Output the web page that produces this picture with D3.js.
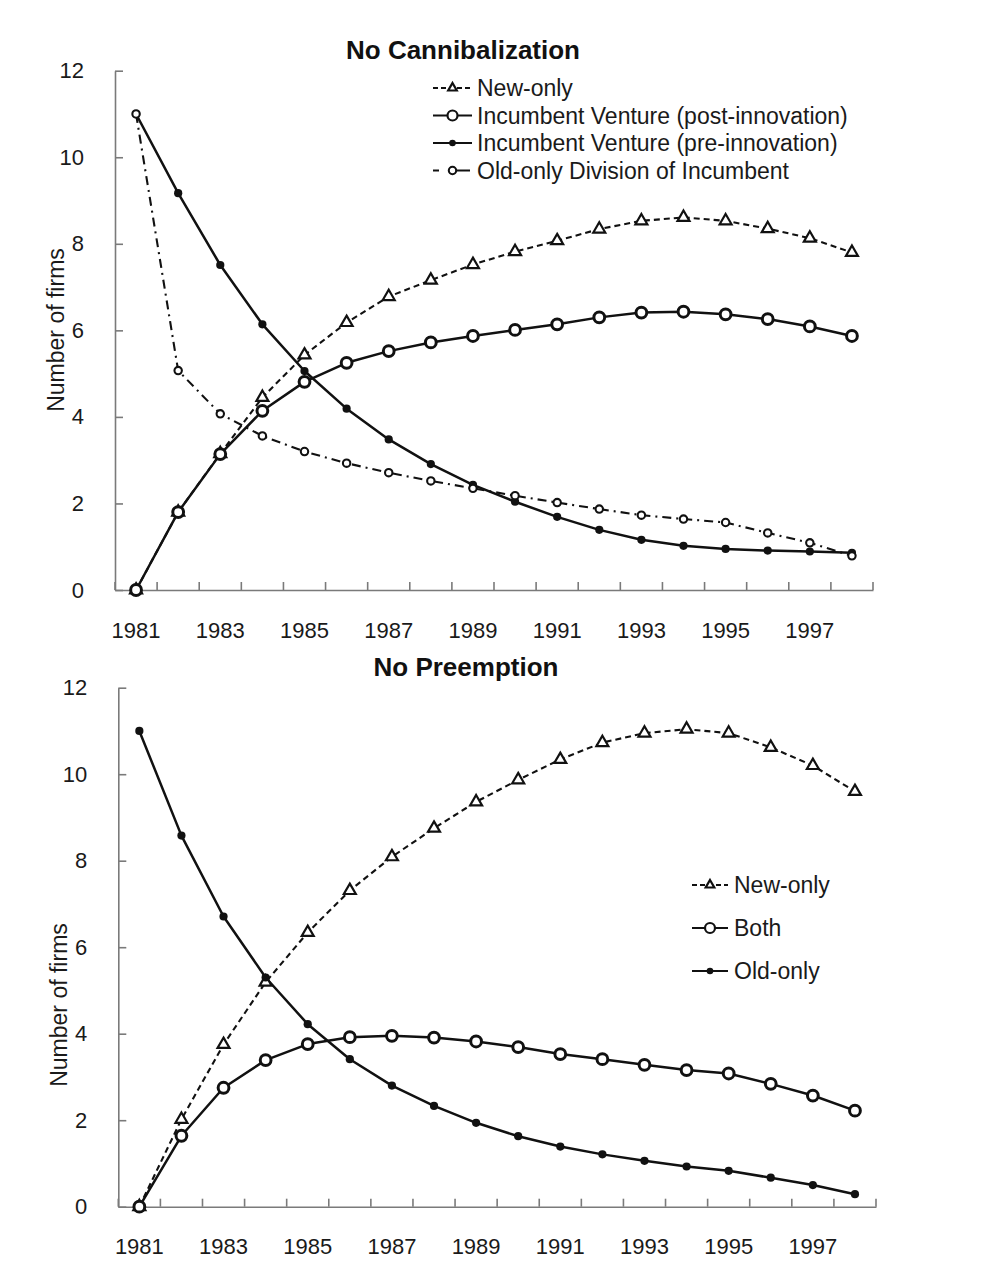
<!DOCTYPE html>
<html>
<head>
<meta charset="utf-8">
<script src="https://cdnjs.cloudflare.com/ajax/libs/d3/7.8.5/d3.min.js"></script>
<style>
  html, body { margin: 0; padding: 0; background: #fff; }
  svg { display: block; font-family: "Liberation Sans", Arial, Helvetica, sans-serif; }
</style>
</head>
<body>
<svg id="chart" width="988" height="1278"></svg>
<script>
// ---------------- DATA ----------------
const years = [1981,1982,1983,1984,1985,1986,1987,1988,1989,1990,1991,1992,1993,1994,1995,1996,1997,1998];
const yTicks = [0, 2, 4, 6, 8, 10, 12];
const xLabelYears = [1981,1983,1985,1987,1989,1991,1993,1995,1997];

// Panel 1: No Cannibalization
const title1 = "No Cannibalization";
const nc_newOnly   = [0, 1.80, 3.15, 4.45, 5.43, 6.18, 6.78, 7.16, 7.52, 7.82, 8.07, 8.34, 8.53, 8.61, 8.53, 8.35, 8.13, 7.80];
const nc_postInnov = [0, 1.80, 3.14, 4.14, 4.81, 5.25, 5.52, 5.72, 5.87, 6.01, 6.14, 6.30, 6.41, 6.43, 6.37, 6.26, 6.09, 5.87];
const nc_preInnov  = [11, 9.17, 7.51, 6.14, 5.06, 4.19, 3.48, 2.91, 2.43, 2.04, 1.69, 1.39, 1.16, 1.02, 0.95, 0.91, 0.89, 0.86];
const nc_oldOnly   = [11, 5.07, 4.07, 3.56, 3.20, 2.93, 2.71, 2.52, 2.35, 2.18, 2.02, 1.87, 1.73, 1.64, 1.56, 1.32, 1.09, 0.79];
const legend1 = ["New-only", "Incumbent Venture (post-innovation)", "Incumbent Venture (pre-innovation)", "Old-only Division of Incumbent"];

// Panel 2: No Preemption
const title2 = "No Preemption";
const np_newOnly = [0, 2.02, 3.75, 5.19, 6.34, 7.31, 8.09, 8.75, 9.36, 9.87, 10.34, 10.73, 10.95, 11.04, 10.95, 10.62, 10.20, 9.60];
const np_both    = [0, 1.64, 2.75, 3.39, 3.76, 3.92, 3.95, 3.91, 3.82, 3.69, 3.53, 3.41, 3.28, 3.16, 3.08, 2.84, 2.57, 2.22];
const np_oldOnly = [11, 8.58, 6.71, 5.30, 4.22, 3.41, 2.80, 2.33, 1.94, 1.63, 1.39, 1.21, 1.06, 0.93, 0.83, 0.67, 0.50, 0.29];
const legend2 = ["New-only", "Both", "Old-only"];

const yLabel = "Number of firms";

// ---------------- STYLES ----------------
const INK = "#111";
const AXIS = "#7a7a7a";
const styles = {
  triangle: { dash: "6,4", width: 2.1, marker: "triangle" },
  bigCircle: { dash: null, width: 2.5, marker: "bigCircle" },
  dot: { dash: null, width: 2.5, marker: "dot" },
  smallCircle: { dash: "9,5,2,5", width: 2.1, marker: "smallCircle" }
};

const svg = d3.select("#chart");

function drawMarker(g, type, cx, cy, legend) {
  if (type === "triangle") {
    const size = legend ? 32 : 62;
    g.append("path")
      .attr("d", d3.symbol().type(d3.symbolTriangle).size(size)())
      .attr("transform", `translate(${cx},${cy})`)
      .attr("fill", "#fff").attr("stroke", INK).attr("stroke-width", 2.2);
  } else if (type === "bigCircle") {
    g.append("circle").attr("cx", cx).attr("cy", cy).attr("r", legend ? 5 : 5.4)
      .attr("fill", "#fff").attr("stroke", INK).attr("stroke-width", legend ? 2.2 : 3);
  } else if (type === "dot") {
    g.append("circle").attr("cx", cx).attr("cy", cy).attr("r", legend ? 3.3 : 4.1)
      .attr("fill", INK).attr("stroke", "none");
  } else if (type === "smallCircle") {
    g.append("circle").attr("cx", cx).attr("cy", cy).attr("r", 3.7)
      .attr("fill", "#fff").attr("stroke", INK).attr("stroke-width", 2.1);
  }
}

function drawPanel(cfg) {
  const g = svg.append("g");
  const x = d3.scaleBand().domain(years).range([cfg.x0, cfg.x1]).padding(0);
  const y = d3.scaleLinear().domain([0, 12]).range([cfg.yBottom, cfg.yTop]);
  const cx = d => x(d) + x.bandwidth() / 2;

  // Y axis
  const yAxis = d3.axisLeft(y).tickValues(yTicks).tickSizeInner(-8).tickSizeOuter(0).tickPadding(31);
  const ya = g.append("g").attr("transform", `translate(${cfg.x0},0)`).call(yAxis);
  ya.select(".domain").attr("stroke", AXIS).attr("stroke-width", 1.6);
  ya.selectAll(".tick line").attr("stroke", AXIS).attr("stroke-width", 1.6);
  ya.selectAll(".tick text").attr("font-size", 22).attr("fill", "#1a1a1a")
    .attr("font-family", "Liberation Sans, Arial, sans-serif");

  // X axis: labels at odd years, tick marks at category boundaries (inward)
  const xAxis = d3.axisBottom(x).tickValues(xLabelYears).tickSize(0).tickPadding(32);
  const xa = g.append("g").attr("transform", `translate(0,${cfg.yBottom})`).call(xAxis);
  xa.select(".domain").attr("stroke", AXIS).attr("stroke-width", 1.6);
  xa.selectAll(".tick text").attr("font-size", 22).attr("fill", "#1a1a1a")
    .attr("font-family", "Liberation Sans, Arial, sans-serif");
  const boundaries = years.map(d => x(d)).concat([cfg.x1]);
  g.append("g").selectAll("line").data(boundaries).join("line")
    .attr("x1", d => d).attr("x2", d => d)
    .attr("y1", cfg.yBottom).attr("y2", cfg.yBottom - 8)
    .attr("stroke", AXIS).attr("stroke-width", 1.6);

  // Y title
  g.append("text")
    .attr("transform", `translate(${cfg.yTitleX},${cfg.yTitleY}) rotate(-90)`)
    .attr("text-anchor", "middle")
    .attr("font-size", 23).attr("fill", "#1a1a1a")
    .text(yLabel);

  // Title
  g.append("text")
    .attr("x", cfg.titleX).attr("y", cfg.titleY)
    .attr("text-anchor", "middle")
    .attr("font-size", 26).attr("font-weight", "bold").attr("fill", INK)
    .text(cfg.title);

  // Series lines
  const line = d3.line().x((d, i) => cx(years[i])).y(d => y(d));
  cfg.series.forEach(s => {
    const st = styles[s.style];
    g.append("path").datum(s.values)
      .attr("d", line)
      .attr("fill", "none").attr("stroke", INK)
      .attr("stroke-width", st.width)
      .attr("stroke-dasharray", st.dash)
      .attr("stroke-linejoin", "round");
  });
  // Markers (drawn after all lines)
  cfg.series.forEach(s => {
    const st = styles[s.style];
    const mg = g.append("g");
    s.values.forEach((v, i) => drawMarker(mg, st.marker, cx(years[i]), y(v), false));
  });

  // Legend
  const lg = g.append("g");
  cfg.legendItems.forEach((item, i) => {
    const st = styles[item.style];
    const ly = cfg.legendY + i * cfg.legendStep;
    const a = cfg.legendX0, b = cfg.legendX1, m = (a + b) / 2;
    if (item.style === "smallCircle") {
      lg.append("line").attr("x1", a).attr("x2", a + 6).attr("y1", ly).attr("y2", ly)
        .attr("stroke", INK).attr("stroke-width", 2);
      lg.append("line").attr("x1", m).attr("x2", b - 2).attr("y1", ly).attr("y2", ly)
        .attr("stroke", INK).attr("stroke-width", 2);
    } else {
      lg.append("line").attr("x1", a).attr("x2", b).attr("y1", ly).attr("y2", ly)
        .attr("stroke", INK).attr("stroke-width", st.dash ? 1.8 : 2.2)
        .attr("stroke-dasharray", st.dash ? "5,3" : null);
    }
    drawMarker(lg, st.marker, m, ly, true);
    lg.append("text").attr("x", cfg.legendTextX).attr("y", ly).attr("dy", "0.35em")
      .attr("font-size", 23).attr("fill", "#1a1a1a").text(item.label);
  });
}

drawPanel({
  title: title1, titleX: 463, titleY: 59,
  x0: 115, x1: 873, yBottom: 590, yTop: 70.7,
  yTitleX: 64, yTitleY: 330,
  series: [
    { values: nc_newOnly, style: "triangle" },
    { values: nc_preInnov, style: "dot" },
    { values: nc_oldOnly, style: "smallCircle" },
    { values: nc_postInnov, style: "bigCircle" }
  ],
  legendItems: [
    { label: legend1[0], style: "triangle" },
    { label: legend1[1], style: "bigCircle" },
    { label: legend1[2], style: "dot" },
    { label: legend1[3], style: "smallCircle" }
  ],
  legendX0: 433, legendX1: 472, legendTextX: 477, legendY: 88, legendStep: 27.5
});

drawPanel({
  title: title2, titleX: 466, titleY: 676,
  x0: 118.3, x1: 876, yBottom: 1206.7, yTop: 687.7,
  yTitleX: 67, yTitleY: 1005,
  series: [
    { values: np_newOnly, style: "triangle" },
    { values: np_both, style: "bigCircle" },
    { values: np_oldOnly, style: "dot" }
  ],
  legendItems: [
    { label: legend2[0], style: "triangle" },
    { label: legend2[1], style: "bigCircle" },
    { label: legend2[2], style: "dot" }
  ],
  legendX0: 692, legendX1: 728, legendTextX: 734, legendY: 885, legendStep: 43
});
</script>
</body>
</html>
